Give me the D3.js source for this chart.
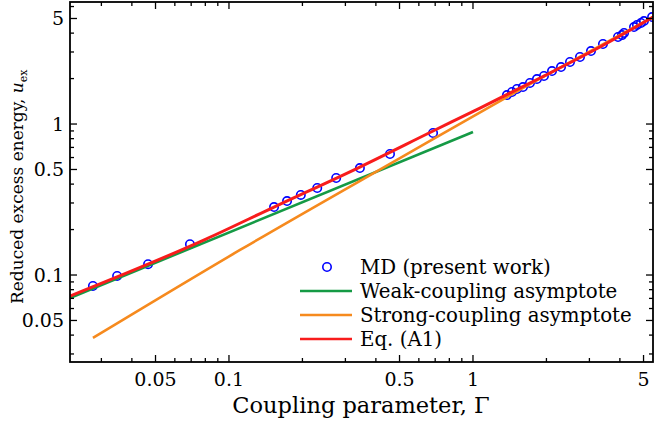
<!DOCTYPE html>
<html>
<head>
<meta charset="utf-8">
<script src="https://cdn.jsdelivr.net/npm/d3@7"></script>
<style>
  html, body { margin: 0; padding: 0; background: #fff; }
  svg { display: block; }
  text { font-family: "DejaVu Serif", serif; fill: #000; }
</style>
</head>
<body>
<div id="chart"></div>
<script>
// MD data (Gamma, u_ex)
const mdGamma = [0.0277, 0.0348, 0.0466, 0.0692, 0.153, 0.173, 0.197, 0.230, 0.275, 0.344, 0.457, 0.686,
                 1.378, 1.445, 1.514, 1.603, 1.712, 1.829, 1.954, 2.108, 2.295, 2.498, 2.745, 3.045, 3.41,
                 3.93, 4.08, 4.16, 4.57, 4.70, 4.88, 5.02, 5.42];
const mdU = [0.0846, 0.0985, 0.118, 0.160, 0.282, 0.309, 0.339, 0.377, 0.439, 0.511, 0.633, 0.872,
             1.556, 1.63, 1.706, 1.758, 1.869, 1.986, 2.08, 2.244, 2.385, 2.575, 2.779, 3.043, 3.39,
             3.77, 3.88, 4.01, 4.39, 4.53, 4.67, 4.81, 5.11];

// curves
const weakGamma = [0.0223, 1];
const weakU = [0.0705, 0.885];
const strongGamma = [0.0277, 0.111, 0.502, 1.378, 5.47];
const strongU = [0.0383, 0.1465, 0.595, 1.51, 5.11];
const eqGamma = [0.0223, 0.0805, 0.153, 0.344, 0.686, 1.068, 1.882, 3.315, 5.47];
const eqU = [0.0726, 0.173, 0.282, 0.519, 0.899, 1.276, 2.017, 3.236, 5.11];

const xLabelTicks = [0.05, 0.1, 0.5, 1, 5];
const xMinorTicks = [0.03, 0.04, 0.06, 0.07, 0.08, 0.09, 0.2, 0.3, 0.4, 0.6, 0.7, 0.8, 0.9, 2, 3, 4];
const yLabelTicks = [0.05, 0.1, 0.5, 1, 5];
const yMinorTicks = [0.03, 0.04, 0.06, 0.07, 0.08, 0.09, 0.2, 0.3, 0.4, 0.6, 0.7, 0.8, 0.9, 2, 3, 4, 6];

const legendNames = ["MD (present work)", "Weak-coupling asymptote", "Strong-coupling asymptote", "Eq. (A1)"];
const colors = {md: "#0000ff", weak: "#159a45", strong: "#f68a1e", eq: "#f81c1c"};

const width = 654, height = 424;
const margin = {left: 70, right: 1, top: 2, bottom: 62};

const x = d3.scaleLog().domain([0.02231, 5.467]).range([margin.left, width - margin.right]);
const y = d3.scaleLog().domain([0.02654, 6.43]).range([height - margin.bottom, margin.top]);

const svg = d3.select('#chart').append('svg')
              .attr('width', width).attr('height', height)
              .attr('viewBox', [0, 0, width, height]);

svg.append('clipPath').attr('id', 'clip')
   .append('rect')
   .attr('x', margin.left).attr('y', margin.top)
   .attr('width', width - margin.left - margin.right)
   .attr('height', height - margin.top - margin.bottom);

const plot = svg.append('g').attr('clip-path', 'url(#clip)');

// MD circles
plot.append('g')
    .selectAll('circle')
    .data(mdGamma.map((g, i) => [g, mdU[i]]))
    .join('circle')
    .attr('cx', d => x(d[0]))
    .attr('cy', d => y(d[1]))
    .attr('r', 4.2)
    .attr('fill', 'none')
    .attr('stroke', colors.md)
    .attr('stroke-width', 1.6);

const line = d3.line().x(d => x(d[0])).y(d => y(d[1])).curve(d3.curveMonotoneX);
const zip = (a, b) => a.map((v, i) => [v, b[i]]);

plot.append('path').attr('d', line(zip(weakGamma, weakU)))
    .attr('fill', 'none').attr('stroke', colors.weak).attr('stroke-width', 2.6);
plot.append('path').attr('d', line(zip(strongGamma, strongU)))
    .attr('fill', 'none').attr('stroke', colors.strong).attr('stroke-width', 2.6);
plot.append('path').attr('d', line(zip(eqGamma, eqU)))
    .attr('fill', 'none').attr('stroke', colors.eq).attr('stroke-width', 3);

// axes: ticks inside, all four sides
const x0 = margin.left, x1 = width - margin.right;
const y0 = height - margin.bottom, y1 = margin.top;
const ax = svg.append('g').attr('stroke', '#000').attr('stroke-width', 1.3);

function xTicks(vals, len) {
  ax.selectAll(null).data(vals).join('line')
    .attr('x1', d => x(d)).attr('x2', d => x(d)).attr('y1', y0).attr('y2', y0 - len);
  ax.selectAll(null).data(vals).join('line')
    .attr('x1', d => x(d)).attr('x2', d => x(d)).attr('y1', y1).attr('y2', y1 + len);
}
function yTicks(vals, len) {
  ax.selectAll(null).data(vals).join('line')
    .attr('y1', d => y(d)).attr('y2', d => y(d)).attr('x1', x0).attr('x2', x0 + len);
  ax.selectAll(null).data(vals).join('line')
    .attr('y1', d => y(d)).attr('y2', d => y(d)).attr('x1', x1).attr('x2', x1 - len);
}
xTicks(xLabelTicks, 7); xTicks(xMinorTicks, 4);
yTicks(yLabelTicks, 7); yTicks(yMinorTicks, 4);

svg.append('rect')
   .attr('x', x0).attr('y', y1).attr('width', x1 - x0).attr('height', y0 - y1)
   .attr('fill', 'none').attr('stroke', '#000').attr('stroke-width', 1.8);

const fmt = d => String(d);
svg.append('g').selectAll('text').data(xLabelTicks).join('text')
   .attr('x', d => x(d)).attr('y', 386)
   .attr('text-anchor', 'middle').attr('font-size', 19)
   .text(fmt);
svg.append('g').selectAll('text').data(yLabelTicks).join('text')
   .attr('x', 64).attr('y', d => y(d) + 7)
   .attr('text-anchor', 'end').attr('font-size', 19)
   .text(fmt);

// axis titles
svg.append('text').attr('x', 361).attr('y', 413).attr('text-anchor', 'middle')
   .attr('font-size', 22.5).text('Coupling parameter, Γ');

const yt = svg.append('text').attr('transform', 'translate(23,304) rotate(-90)')
              .attr('text-anchor', 'start').attr('font-size', 17);
yt.append('tspan').text('Reduced excess energy, ');
yt.append('tspan').attr('font-style', 'italic').text('u');
yt.append('tspan').attr('font-size', 11).attr('dy', 4).text('ex');

// legend
const leg = svg.append('g');
const rowY = [267, 291, 315, 339];
const legKeys = ['md', 'weak', 'strong', 'eq'];
legKeys.forEach((k, i) => {
  if (k === 'md') {
    leg.append('circle').attr('cx', 327).attr('cy', rowY[i]).attr('r', 4.2)
       .attr('fill', 'none').attr('stroke', colors.md).attr('stroke-width', 1.6);
  } else {
    leg.append('line').attr('x1', 300).attr('x2', 352).attr('y1', rowY[i]).attr('y2', rowY[i])
       .attr('stroke', colors[k]).attr('stroke-width', 2.6);
  }
  leg.append('text').attr('x', 360).attr('y', rowY[i] + 7).attr('font-size', 19.8)
     .text(legendNames[i]);
});
</script>
</body>
</html>
